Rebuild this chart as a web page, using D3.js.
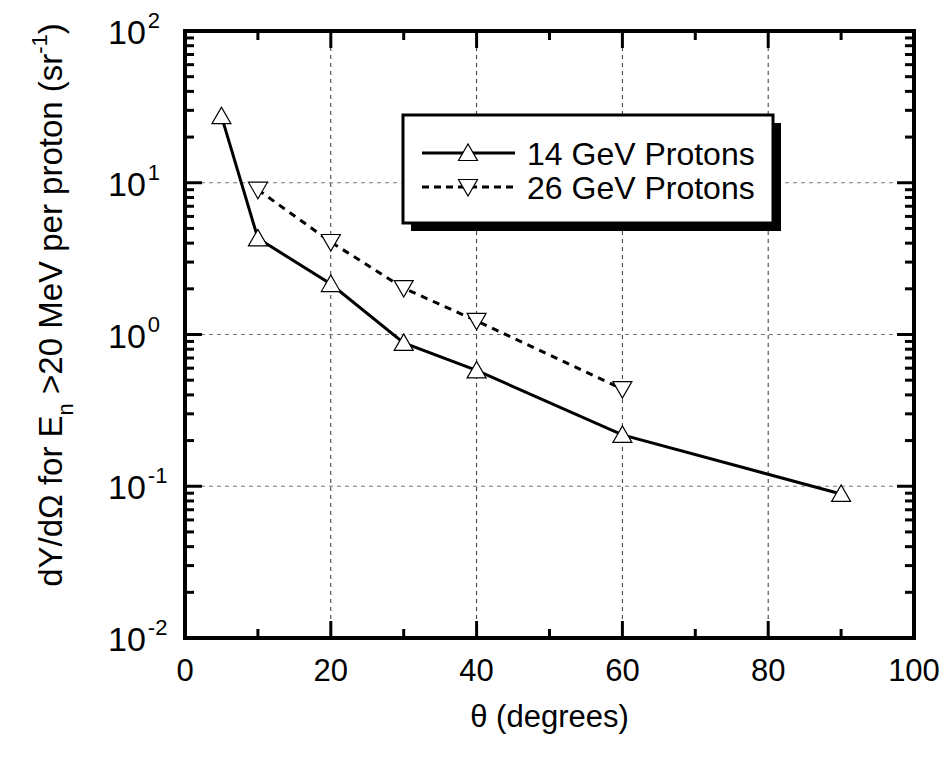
<!doctype html>
<html>
<head>
<meta charset="utf-8">
<title>Neutron yield vs angle</title>
<script src="https://cdnjs.cloudflare.com/ajax/libs/d3/7.8.5/d3.min.js"></script>
<style>
  body { margin: 0; background: #fff; }
  text { font-family: "Liberation Sans", Arial, sans-serif; fill: #000; }
</style>
</head>
<body>
<div id="chart"></div>
<script>
// data
const angles14 = [5, 10, 20, 30, 40, 60, 90];
const yield14 = [27.5, 4.3, 2.15, 0.88, 0.58, 0.218, 0.089];
const angles26 = [10, 20, 30, 40, 60];
const yield26 = [9.0, 4.07, 2.02, 1.23, 0.437];
const xTicks = [0, 20, 40, 60, 80, 100];
const yExps = [-2, -1, 0, 1, 2];
const seriesNames = ["14 GeV Protons", "26 GeV Protons"];

const W = 946, H = 765;
const plotL = 185, plotR = 914, plotT = 31, plotB = 638;

const svg = d3.select("#chart").append("svg")
  .attr("width", W).attr("height", H);

const x = d3.scaleLinear().domain([0, 100]).range([plotL, plotR]);
const y = d3.scaleLog().domain([0.01, 100]).range([plotB, plotT]);

// grid
const grid = svg.append("g");
grid.selectAll(".vg").data([20, 40, 60, 80]).join("line")
  .attr("x1", d => x(d)).attr("x2", d => x(d))
  .attr("y1", plotT).attr("y2", plotB)
  .attr("stroke", "#333").attr("stroke-width", 1).attr("stroke-dasharray", "4,4");
grid.selectAll(".hg").data([0.1, 1, 10]).join("line")
  .attr("y1", d => y(d)).attr("y2", d => y(d))
  .attr("x1", plotL).attr("x2", plotR)
  .attr("stroke", "#777").attr("stroke-width", 1).attr("stroke-dasharray", "4,4");

// ticks on all four sides, pointing inwards
const majorLen = 17, minorLen = 9;
const xMinor = d3.range(10, 100, 20);
const yMajor = yExps.map(e => Math.pow(10, e));
const yMinor = [];
yExps.slice(0, -1).forEach(e => {
  for (let k = 2; k <= 9; k++) yMinor.push(k * Math.pow(10, e));
});

const ticks = svg.append("g").attr("stroke", "#000").attr("stroke-width", 3);
function xTickLines(vals, len) {
  ticks.selectAll(null).data(vals).join("line")
    .attr("x1", d => x(d)).attr("x2", d => x(d))
    .attr("y1", plotB).attr("y2", plotB - len);
  ticks.selectAll(null).data(vals).join("line")
    .attr("x1", d => x(d)).attr("x2", d => x(d))
    .attr("y1", plotT).attr("y2", plotT + len);
}
function yTickLines(vals, len) {
  ticks.selectAll(null).data(vals).join("line")
    .attr("y1", d => y(d)).attr("y2", d => y(d))
    .attr("x1", plotL).attr("x2", plotL + len);
  ticks.selectAll(null).data(vals).join("line")
    .attr("y1", d => y(d)).attr("y2", d => y(d))
    .attr("x1", plotR).attr("x2", plotR - len);
}
xTickLines(xTicks, majorLen);
xTickLines(xMinor, minorLen);
yTickLines(yMajor, majorLen);
yTickLines(yMinor, minorLen);

// frame
svg.append("rect")
  .attr("x", plotL).attr("y", plotT)
  .attr("width", plotR - plotL).attr("height", plotB - plotT)
  .attr("fill", "none").attr("stroke", "#000").attr("stroke-width", 4);

// tick labels
svg.selectAll(".xl").data(xTicks).join("text")
  .attr("x", d => x(d)).attr("y", 681)
  .attr("text-anchor", "middle").attr("font-size", 31)
  .text(d => d);

const yl = svg.selectAll(".yl").data(yExps).join("text")
  .attr("x", 108).attr("y", d => y(Math.pow(10, d)) + 13)
  .attr("font-size", 34);
yl.append("tspan").text("10");
yl.append("tspan").attr("dx", 2).attr("dy", -16).attr("font-size", 22).text(d => d);

// axis titles
svg.append("text")
  .attr("x", (plotL + plotR) / 2).attr("y", 727)
  .attr("text-anchor", "middle").attr("font-size", 31)
  .text("\u03b8 (degrees)");

const yt = svg.append("text")
  .attr("transform", "translate(62, 305) rotate(-90)")
  .attr("text-anchor", "middle").attr("font-size", 33);
yt.append("tspan").text("dY/d\u03a9 for E");
yt.append("tspan").attr("dy", 11).attr("font-size", 22).text("n");
yt.append("tspan").attr("dy", -11).text(" >20 MeV per proton (sr");
yt.append("tspan").attr("dy", -15).attr("font-size", 22).text("-1");
yt.append("tspan").attr("dy", 15).text(")");

// series
const up = "M-9.5,7.5L9.5,7.5L0,-9Z";
const down = "M-9.5,-7.5L9.5,-7.5L0,9Z";
const d14 = angles14.map((a, i) => [a, yield14[i]]);
const d26 = angles26.map((a, i) => [a, yield26[i]]);
const line = d3.line().x(d => x(d[0])).y(d => y(d[1]));

svg.append("path").datum(d26).attr("d", line)
  .attr("fill", "none").attr("stroke", "#000").attr("stroke-width", 3)
  .attr("stroke-dasharray", "7,6");
svg.append("path").datum(d14).attr("d", line)
  .attr("fill", "none").attr("stroke", "#000").attr("stroke-width", 3);

svg.selectAll(".m14").data(d14).join("path")
  .attr("transform", d => `translate(${x(d[0])},${y(d[1])})`)
  .attr("d", up).attr("fill", "#fff").attr("stroke", "#000").attr("stroke-width", 1.2);
svg.selectAll(".m26").data(d26).join("path")
  .attr("transform", d => `translate(${x(d[0])},${y(d[1])})`)
  .attr("d", down).attr("fill", "#fff").attr("stroke", "#000").attr("stroke-width", 1.2);

// legend
const lg = svg.append("g").attr("transform", "translate(403,115)");
lg.append("rect").attr("x", 8).attr("y", 8).attr("width", 370).attr("height", 108).attr("fill", "#000");
lg.append("rect").attr("x", 0).attr("y", 0).attr("width", 370).attr("height", 108)
  .attr("fill", "#fff").attr("stroke", "#000").attr("stroke-width", 3);
seriesNames.forEach((name, i) => {
  const yy = 38 + i * 34;
  lg.append("line").attr("x1", 19).attr("x2", 112).attr("y1", yy).attr("y2", yy)
    .attr("stroke", "#000").attr("stroke-width", 3)
    .attr("stroke-dasharray", i === 0 ? null : "7,5");
  lg.append("path").attr("transform", `translate(65,${yy})`)
    .attr("d", i === 0 ? up : down)
    .attr("fill", "#fff").attr("stroke", "#000").attr("stroke-width", 1.2);
  lg.append("text").attr("x", 124).attr("y", yy + 12).attr("font-size", 32).text(name);
});
</script>
</body>
</html>
